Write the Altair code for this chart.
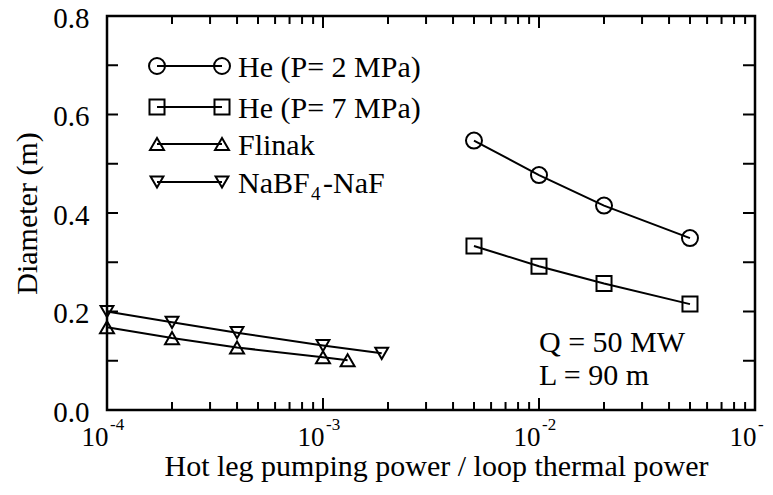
import altair as alt
import pandas as pd

# ---------------- data ----------------
series_names = ["He (P= 2 MPa)", "He (P= 7 MPa)", "Flinak", "NaBF4-NaF"]

x_he = [0.005, 0.01, 0.02, 0.05]
d_he2 = [0.547, 0.477, 0.415, 0.349]
d_he7 = [0.333, 0.292, 0.257, 0.215]

x_flinak = [1e-4, 2e-4, 4e-4, 1e-3, 1.3e-3]
d_flinak = [0.168, 0.146, 0.127, 0.107, 0.101]

x_nabf = [1e-4, 2e-4, 4e-4, 1e-3, 1.87e-3]
d_nabf = [0.200, 0.178, 0.157, 0.131, 0.115]

x_major = [1e-4, 1e-3, 1e-2, 1e-1]
x_exponents = ["-4", "-3", "-2", "-1"]
x_minor = [m * 10.0 ** e for e in (-4, -3, -2) for m in range(2, 10)]
y_labels = [0.0, 0.2, 0.4, 0.6, 0.8]
y_ticks = [0.1, 0.2, 0.3, 0.4, 0.5, 0.6, 0.7]

annotations = ["Q = 50 MW", "L = 90 m"]
annotation_x = [0.01, 0.01]
annotation_y = [0.118, 0.051]

legend_text = ["He (P= 2 MPa)", "He (P= 7 MPa)", "Flinak", "NaBF"]

# ---------------- tables ----------------
rows = []
for name, xs_, ys_ in [
    (series_names[0], x_he, d_he2),
    (series_names[1], x_he, d_he7),
    (series_names[2], x_flinak, d_flinak),
    (series_names[3], x_nabf, d_nabf),
]:
    for xv, yv in zip(xs_, ys_):
        rows.append({"series": name, "x": xv, "y": yv})
df = pd.DataFrame(rows)

# ---------------- layout / style ----------------
W, H = 648, 394
X_LO, X_HI, Y_HI = 1e-4, 1e-1, 0.8
FONT = "Liberation Serif, Times New Roman, DejaVu Serif, serif"


def px_to_x(px):
    return X_LO * (X_HI / X_LO) ** (px / W)


def px_to_y(py):
    return (H - py) / H * Y_HI


legend_row_px = [50, 91, 128, 166]   # rows of the hand-made legend, in plot pixels
LEG_X1, LEG_X2, LEG_TX = 50, 115, 131

df_leg = pd.DataFrame({
    "series": series_names,
    "y": [px_to_y(p) for p in legend_row_px],
})
df_leg_pts = pd.concat([df_leg.assign(x=px_to_x(LEG_X1)), df_leg.assign(x=px_to_x(LEG_X2))])
df_leg_txt = pd.DataFrame({
    "x": [px_to_x(LEG_TX)] * 4 + [px_to_x(LEG_TX + 73), px_to_x(LEG_TX + 85)],
    "y": [px_to_y(p + 11) for p in legend_row_px]
         + [px_to_y(legend_row_px[3] + 18), px_to_y(legend_row_px[3] + 11)],
    "t": legend_text + ["4", "-NaF"],
    "fs": [30, 30, 30, 30, 19, 30],
})

shape_scale = alt.Scale(domain=series_names,
                        range=["circle", "square", "triangle-up", "triangle-down"])
size_scale = alt.Scale(domain=series_names, range=[256, 165, 320, 320])

xs = alt.Scale(type="log", domain=[X_LO, X_HI], nice=False)
ys = alt.Scale(domain=[0, Y_HI], nice=False)

x_axis = alt.Axis(values=x_major, labelExpr="'10'", labelAlign="right", labelOffset=1,
                  labelBaseline="alphabetic", labelPadding=35, labelFontSize=27,
                  labelFlush=False, labelOverlap=False,
                  title="Hot leg pumping power / loop thermal power",
                  titleFontSize=30, titleY=65, titleX=329, titleBaseline="alphabetic",
                  ticks=False, domain=False, grid=False)
y_axis = alt.Axis(values=y_labels, format=".1f", labelFontSize=29, labelPadding=18,
                  labelBaseline="middle", labelOffset=2, labelFlush=False,
                  labelOverlap=False,
                  title="Diameter (m)", titleFontSize=30, titleX=-71, titleY=197,
                  titleAngle=270, titleAlign="center", titleBaseline="alphabetic",
                  ticks=False, domain=False, grid=False)

X = alt.X("x:Q", scale=xs, axis=x_axis)
Y = alt.Y("y:Q", scale=ys, axis=y_axis)

lines = alt.Chart(df).mark_line(color="black", strokeWidth=2).encode(
    x=X, y=Y, detail="series:N")

points = alt.Chart(df).mark_point(filled=False, color="black", strokeWidth=2,
                                  opacity=1).encode(
    x=X, y=Y,
    shape=alt.Shape("series:N", scale=shape_scale, legend=None),
    size=alt.Size("series:N", scale=size_scale, legend=None))

df_xmaj = pd.DataFrame({"x": x_major, "exp": x_exponents})
df_xmin = pd.DataFrame({"x": x_minor})
df_y = pd.DataFrame({"y": y_ticks})

tick_layers = []
for d, ln in [(df_xmaj, 12), (df_xmin, 8)]:
    tick_layers.append(alt.Chart(d).mark_rule(color="black", strokeWidth=2).encode(
        x=X, y=alt.value(H), y2=alt.value(H - ln)))
    tick_layers.append(alt.Chart(d).mark_rule(color="black", strokeWidth=2).encode(
        x=X, y=alt.value(0), y2=alt.value(ln)))
tick_layers.append(alt.Chart(df_y).mark_rule(color="black", strokeWidth=2).encode(
    y=Y, x=alt.value(0), x2=alt.value(11)))
tick_layers.append(alt.Chart(df_y).mark_rule(color="black", strokeWidth=2).encode(
    y=Y, x=alt.value(W), x2=alt.value(W - 12)))

sups = alt.Chart(df_xmaj).mark_text(align="left", baseline="alphabetic", dx=3,
                                    fontSize=17, font=FONT, color="black").encode(
    x=X, y=alt.value(H + 20), text="exp:N")

df_ann = pd.DataFrame({"x": annotation_x, "y": annotation_y, "t": annotations})
ann = alt.Chart(df_ann).mark_text(align="left", baseline="alphabetic", fontSize=30,
                                  font=FONT, color="black").encode(
    x=X, y=Y, text="t:N")

leg_line = alt.Chart(df_leg_pts).mark_line(color="black", strokeWidth=2).encode(
    x=X, y=Y, detail="series:N")
leg_pts = alt.Chart(df_leg_pts).mark_point(filled=False, color="black", strokeWidth=2,
                                           opacity=1).encode(
    x=X, y=Y,
    shape=alt.Shape("series:N", scale=shape_scale, legend=None),
    size=alt.Size("series:N", scale=size_scale, legend=None))
leg_txt = alt.Chart(df_leg_txt).mark_text(align="left", baseline="alphabetic",
                                          font=FONT, color="black").encode(
    x=X, y=Y, text="t:N", size=alt.Size("fs:Q", scale=None, legend=None))

chart = alt.layer(
    lines, points, *tick_layers, sups, ann, leg_line, leg_pts, leg_txt
).properties(
    width=W, height=H,
    padding={"left": 99, "top": 8, "right": 10, "bottom": 77},
    autosize="none",
).configure_view(
    stroke="black", strokeWidth=2.5
).configure_axis(
    labelFont=FONT, titleFont=FONT, labelColor="black", titleColor="black",
    titleFontWeight="normal"
)

chart.save("out.html", embed_options={"renderer": "svg", "actions": False})
